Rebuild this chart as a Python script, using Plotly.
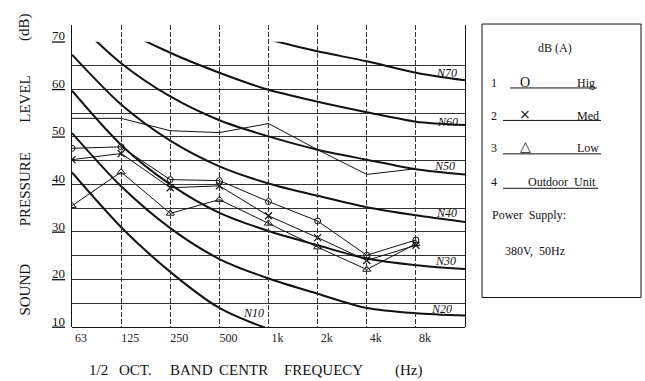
import plotly.graph_objects as go

# band centre frequencies (one extra slot at the right edge for the curves)
bands = ['63', '125', '250', '500', '1k', '2k', '4k', '8k']
pos = [0, 1, 2, 3, 4, 5, 6, 7, 8]

# noise rating curves
n10 = [42.5, 31.0, 21.6, 14.0, 9.6, 6.6]
n20 = [50.8, 39.6, 30.8, 24.3, 20.2, 17.0, 14.0, 12.9, 12.4]
n30 = [59.7, 48.3, 40.0, 34.0, 30.2, 27.2, 24.4, 23.0, 22.2]
n40 = [67.3, 56.8, 49.2, 43.8, 40.2, 37.6, 35.2, 33.5, 32.1]
n50 = [75.0, 65.5, 58.5, 53.5, 50.1, 47.3, 45.2, 43.2, 42.1]
n60 = [82.9, 73.0, 67.7, 63.5, 59.9, 57.4, 55.2, 53.2, 52.5]
n70 = [90.8, 82.9, 77.1, 73.0, 70.5, 68.0, 65.9, 63.5, 61.9]

# measured spectra
hig = [47.6, 47.9, 41.0, 40.8, 36.4, 32.3, 25.1, 28.3]
med = [45.2, 46.5, 39.3, 39.7, 33.4, 28.8, 24.0, 27.2]
low = [35.5, 42.6, 33.9, 36.8, 31.8, 26.8, 22.1, 27.5]
outdoor = [53.9, 53.9, 51.3, 50.9, 52.8, 47.3, 42.1, 43.3]

y_ticks = [10, 20, 30, 40, 50, 60, 70]

# label spots for the curves (x position, y value)
curve_labels = [('N10', 3.69, 12.9), ('N20', 7.52, 13.7), ('N30', 7.6, 23.9),
                ('N40', 7.62, 34.0), ('N50', 7.58, 43.9), ('N60', 7.64, 53.2),
                ('N70', 7.62, 63.4)]

SERIF = 'Liberation Serif'
INK = '#111111'


# pixel -> paper helpers (plot area 72..465 x 20..327)
def px(x):
    return (x - 72) / 393


def py(y):
    return (327 - y) / 307


fig = go.Figure()

for curve in [n10, n20, n30, n40, n50, n60, n70]:
    fig.add_trace(go.Scatter(x=pos[:len(curve)], y=curve, mode='lines',
                             line=dict(color=INK, width=2, shape='spline', smoothing=0.8),
                             showlegend=False, hoverinfo='skip'))

fig.add_trace(go.Scatter(x=pos[:8], y=outdoor, mode='lines',
                         line=dict(color=INK, width=1), showlegend=False))
fig.add_trace(go.Scatter(x=pos[:8], y=hig, mode='lines+markers',
                         line=dict(color=INK, width=1),
                         marker=dict(symbol='circle-open', size=6, color=INK, line=dict(width=1)),
                         showlegend=False))
fig.add_trace(go.Scatter(x=pos[:8], y=med, mode='lines+markers',
                         line=dict(color=INK, width=1),
                         marker=dict(symbol='x-thin-open', size=7, color=INK, line=dict(width=1.2)),
                         showlegend=False))
fig.add_trace(go.Scatter(x=pos[:8], y=low, mode='lines+markers',
                         line=dict(color=INK, width=1),
                         marker=dict(symbol='triangle-up-open', size=7, color=INK, line=dict(width=1)),
                         showlegend=False))

# frame + vertical grid on a full-height helper subplot
fig.add_trace(go.Scatter(x=[0], y=[0], xaxis='x2', yaxis='y2', mode='markers',
                         marker=dict(opacity=0), showlegend=False, hoverinfo='skip'))

annotations = []
for name, xv, yv in curve_labels:
    annotations.append(dict(x=xv, y=yv, xref='x', yref='y', text='<i>' + name + '</i>',
                            showarrow=False, xanchor='center', yanchor='middle',
                            font=dict(family=SERIF, size=12, color=INK)))

# y title words
for word, yy in [('(dB)', 22), ('LEVEL', 96), ('PRESSURE', 187), ('SOUND', 289)]:
    annotations.append(dict(x=px(25), y=py(yy), xref='paper', yref='paper', text=word,
                            textangle=-90, showarrow=False, xanchor='center', yanchor='middle',
                            font=dict(family=SERIF, size=15, color=INK)))

# x title words
for word, xx in [('1/2', 98), ('OCT.', 135), ('BAND', 191), ('CENTR', 243),
                 ('FREQUECY', 323), ('(Hz)', 408)]:
    annotations.append(dict(x=px(xx), y=py(371), xref='paper', yref='paper', text=word,
                            showarrow=False, xanchor='center', yanchor='middle',
                            font=dict(family=SERIF, size=15, color=INK)))

# legend box texts
box_font = dict(family=SERIF, size=12, color=INK)
sym_font = dict(family=SERIF, size=14, color=INK)
box_texts = [
    ('dB (A)', 555, 43, 'center', box_font),
    ('1', 494, 79, 'center', box_font), ('O', 525, 78, 'center', sym_font),
    ('Hig', 597, 79, 'right', box_font),
    ('2', 494, 112, 'center', box_font),
    ('×', 525, 110, 'center', dict(family='DejaVu Sans', size=14, color=INK)),
    ('Med', 601, 112, 'right', box_font),
    ('3', 494, 145, 'center', box_font), ('△', 525, 144, 'center', sym_font),
    ('Low', 601, 145, 'right', box_font),
    ('4', 494, 180, 'center', box_font), ('Outdoor  Unit', 598, 180, 'right', box_font),
    ('Power  Supply:', 490, 213, 'left', box_font),
    ('380V,  50Hz', 503, 250, 'left', box_font),
]
for txt, xx, yy, anchor, fnt in box_texts:
    annotations.append(dict(x=px(xx), y=py(yy), xref='paper', yref='paper', text=txt,
                            showarrow=False, xanchor=anchor, yanchor='middle', font=fnt))

shapes = [dict(type='rect', xref='paper', yref='paper', x0=px(482), x1=px(641),
               y0=py(297), y1=py(19), line=dict(color=INK, width=1))]
for x0, x1, yy in [(510, 597, 84), (503, 601, 117), (503, 601, 151), (503, 598, 186)]:
    shapes.append(dict(type='line', xref='paper', yref='paper', x0=px(x0), x1=px(x1),
                       y0=py(yy), y1=py(yy), line=dict(color=INK, width=1)))

fig.update_layout(
    width=645, height=381,
    margin=dict(l=72, r=180, t=20, b=54),
    paper_bgcolor='white', plot_bgcolor='rgba(0,0,0,0)',
    showlegend=False,
    font=dict(family=SERIF, color=INK),
    xaxis=dict(range=[0, 8], domain=[0, 1], anchor='y', tickmode='array',
               tickvals=pos[:8], ticktext=bands, showgrid=False, zeroline=False,
               showline=True, linecolor=INK, linewidth=1, ticks='',
               ticklabelshift=9, tickfont=dict(family=SERIF, size=12, color='#222')),
    yaxis=dict(range=[10, 70.02], domain=[0, 290 / 307], anchor='x', tickmode='array',
               tickvals=y_ticks, ticktext=['<u>%d</u>' % v for v in y_ticks],
               showgrid=True, gridcolor='#333', gridwidth=1, zeroline=False,
               minor=dict(dtick=5, tick0=10, showgrid=True, gridcolor='#333', gridwidth=1),
               ticks='', ticklabelshift=-6, ticklabelstandoff=6,
               tickfont=dict(family=SERIF, size=13, color=INK)),
    xaxis2=dict(range=[0, 8], domain=[0, 1], anchor='y2', tickmode='array',
                tickvals=pos[:8], showticklabels=False, showgrid=True,
                gridcolor='#333', gridwidth=1, griddash='5px,2px', zeroline=False),
    yaxis2=dict(range=[0, 1], domain=[0, 1], anchor='x2', showgrid=False,
                showticklabels=False, zeroline=False, showline=True, mirror=True,
                linecolor=INK, linewidth=1),
    annotations=annotations,
    shapes=shapes,
)

# drop the browser's default page margin so the figure sits at 0,0
fig.write_html("out.html", config={'displayModeBar': False},
               post_script="document.body.style.margin='0';")
